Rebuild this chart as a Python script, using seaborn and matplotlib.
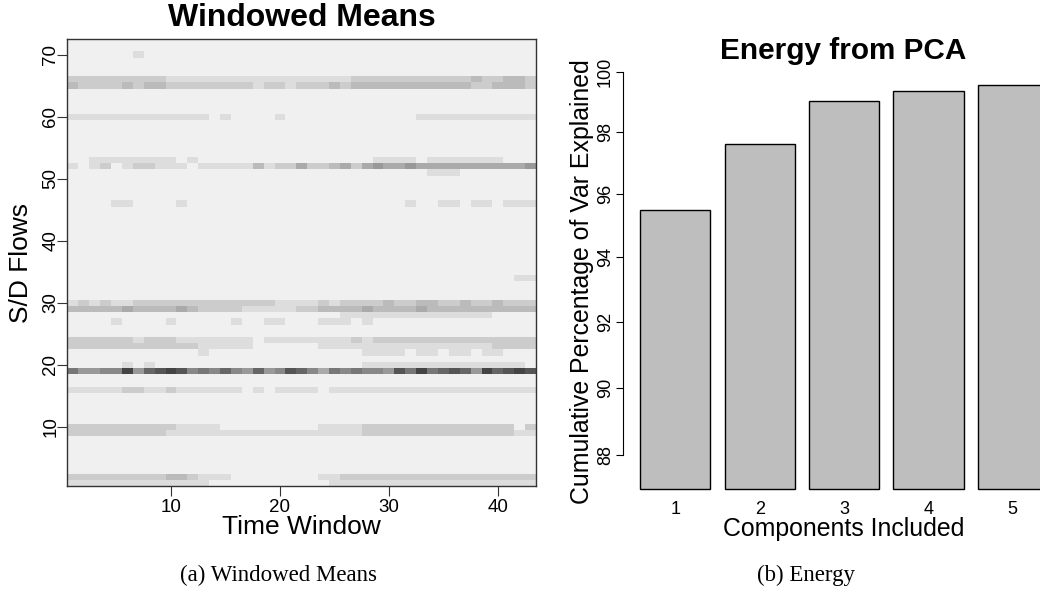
import numpy as np
import matplotlib
matplotlib.use('Agg')
import matplotlib.pyplot as plt
import seaborn as sns
from matplotlib.ticker import NullLocator

# windowed means, 72 S/D flows x 43 time windows
# only the flows that are not flat are listed, one char per window
# char = grey shade of the cell (hex brightness), F is the light background level
n_flows = 72
n_windows = 43
busy_flows = [1, 2, 9, 10, 16, 19, 20, 22, 23, 24, 27, 28, 29, 30, 34,
              46, 51, 52, 53, 60, 65, 66, 70]
busy_shades = [
    "DDDDDDDDDD DDDFFFFFFF FFFFDDDDDD DDDDDDDDDD DDD",  # 1
    "CCCCCCCCCB BCDDDFFFFF FFFDDCCCCC CCCCCCCCCC CCC",  # 2
    "CCCCCCCCCD DDDDDDDDDD DDDDDDDCCC CCCCCCCCCC CDD",  # 9
    "CCCCCCCCCC DDDDFFFFFF FFFDDDDCCC CCCCCCCCCC CFC",  # 10
    "DDDDDCCDDC DDDDDDFDFD DDDFDDDDDD DDDDDDDDDD DDD",  # 16
    "7998849654 5878689698 568A787889 5747656946 545",  # 19
    "FFFFFDFDFF FFFFFFFFFF FFFFFFFDDD DDDDDDDDDD DDF",  # 20
    "FFFFFFFFFF FFDFFFFFFF FFFFFFFDDD DFDDFDDFDD FFF",  # 22
    "CCCCCCCCCC CCDDDDDFFF FFFDDDDDDD DDDDDDDDDC CCC",  # 23
    "CCCCCCDCCC DDDDDDDFDD DDDDDDCDCC CCCCCCCCCC CCC",  # 24
    "FFFFDFFFFD FFFFFDFFDD FFFDDDFDFF FFFFFFFFFF FFF",  # 27
    "FFFFFFFFFF FFFFFFFFFF FFFFFDDDDD DDDDDDDDDF FFF",  # 28
    "BBBBBABBBB ABCCCCDDDD DCCBBBBABB BBABBBBBBB BBB",  # 29
    "DCDCDDCCCC CCCCCCCCCD DDDCDCCCCB CCBBCCBCCB CCC",  # 30
    "FFFFFFFFFF FFFFFFFFFF FFFFFFFFFF FFFFFFFFFF FDD",  # 34
    "FFFFDDFFFF DFFFFFFFFF FFFFFFFFFF FDFFDDFDDF DDD",  # 46
    "FFFFFFFFFF FFFFFFFFFF FFFFFFFFFF FFFDDDFFFF FFF",  # 51
    "DFDCFDCCDD DFDDDDDBDC CACCBACA9A A9AAAAAAAA AA9",  # 52
    "FFDDDDDDDD FDFFFFFFFF FFFFFFFFDD DDFDDDDDDD FFF",  # 53
    "DDDDDDDDDD DDDFDFFFFD FFFFFFFFFF FFDDDDDDDD DDD",  # 60
    "BCCCCBCBBC CCCCCCCDCC DCCCBCBBBB BBBBBBBCCB BBC",  # 65
    "CCCCCCCCCD DDDDDDDDDD DDDDDDCCCC CCCCCCCBCC BBC",  # 66
    "FFFFFFDFFF FFFFFFFFFF FFFFFFFFFF FFFFFFFFFF FFF",  # 70
]
win_ticks = [10, 20, 30, 40]
flow_ticks = [10, 20, 30, 40, 50, 60, 70]

# energy from pca (cumulative % of variance, log axis)
components = ['1', '2', '3', '4', '5']
cum_var = [95.5, 97.63, 99.02, 99.35, 99.55]
var_ticks = [88, 90, 92, 94, 96, 98, 100]
y_floor = 87


def shade_matrix():
    m = np.full((n_flows, n_windows), 0xF0)
    for flow, s in zip(busy_flows, busy_shades):
        s = s.replace(' ', '')
        assert len(s) == n_windows, flow
        m[flow - 1] = [0xF0 if c == 'F' else int(c, 16) * 17 for c in s]
    return m


sns.set_style('ticks')
plt.rcParams['font.family'] = ['Liberation Sans', 'DejaVu Sans']
# plain black text like the R original
for key in ['text.color', 'axes.labelcolor', 'xtick.color', 'ytick.color']:
    plt.rcParams[key] = 'black'

fig = plt.figure(figsize=(10.4, 5.94), dpi=100)

# left: windowed means heatmap
ax1 = fig.add_axes([0.0649, 0.1818, 0.4505, 0.7525])
sns.heatmap(shade_matrix(), ax=ax1, cmap='gray', vmin=0, vmax=255, cbar=False)
ax1.set_xlim(0, n_windows)
ax1.set_ylim(0, n_flows)
ax1.set_xticks([t - 0.5 for t in win_ticks], win_ticks)
ax1.set_yticks([t - 0.5 for t in flow_ticks], flow_ticks, rotation=90, va='center')
ax1.tick_params(length=7.5, width=0.8, color='#333333', labelsize=13.5, labelcolor='black')
ax1.tick_params(axis='x', pad=2)
ax1.tick_params(axis='y', pad=-1.5)
for sp in ax1.spines.values():
    sp.set_visible(True)
    sp.set_color('#333333')
    sp.set_linewidth(1)
ax1.set_title('Windowed Means', fontsize=23, fontweight='bold', y=1.0474, pad=0,
              va='center', color='black')
ax1.set_xlabel('Time Window', fontsize=19, va='center', color='black')
ax1.set_ylabel('S/D Flows', fontsize=19, va='center', color='black')
ax1.xaxis.set_label_coords(0.5, -0.0917)
ax1.yaxis.set_label_coords(-0.1003, 0.5)

# right: bar chart of cumulative variance
ax2 = fig.add_axes([0.5993, 0.1471, 0.438, 0.7574])
sns.barplot(x=components, y=cum_var, ax=ax2, color='#BEBEBE', saturation=1,
            edgecolor='black', linewidth=1, width=1 / 1.2, errorbar=None)
ax2.set_yscale('log')
# bars start at the bottom of the range like R's log barplot
for bar in ax2.patches:
    top = bar.get_y() + bar.get_height()
    bar.set_y(y_floor)
    bar.set_height(top - y_floor)
ax2.set_ylim(86.5, 100.5)
ax2.set_xlim(-0.6167, 4.783)
ax2.set_yticks(var_ticks, var_ticks, rotation=90, va='center')
ax2.yaxis.set_minor_locator(NullLocator())
sns.despine(ax=ax2, bottom=True)
ax2.spines['left'].set_bounds(var_ticks[0], var_ticks[-1])
ax2.spines['left'].set_linewidth(0.8)
ax2.spines['left'].set_color('black')
ax2.tick_params(axis='x', length=0, pad=-4.3, labelsize=13, labelcolor='black')
ax2.tick_params(axis='y', length=5.3, width=0.8, pad=1.5, labelsize=13,
                color='black', labelcolor='black')
ax2.set_title('Energy from PCA', fontsize=21.4, fontweight='bold', x=0.483, y=1.0133,
              pad=0, va='center', color='black')
ax2.set_xlabel('Components Included', fontsize=17.9, va='center', color='black')
ax2.set_ylabel('Cumulative Percentage of Var Explained', fontsize=17.9, va='center',
               color='black')
ax2.xaxis.set_label_coords(0.483, -0.0498)
ax2.yaxis.set_label_coords(-0.0913, 0.5)

# sub captions
cap_font = ['Liberation Serif', 'DejaVu Serif']
fig.text(278 / 1040, 1 - 575 / 594, '(a) Windowed Means', ha='center', va='center',
         fontsize=16.5, family=cap_font, color='black')
fig.text(806 / 1040, 1 - 575 / 594, '(b) Energy', ha='center', va='center',
         fontsize=16.5, family=cap_font, color='black')

fig.savefig('out.png', dpi=100)
